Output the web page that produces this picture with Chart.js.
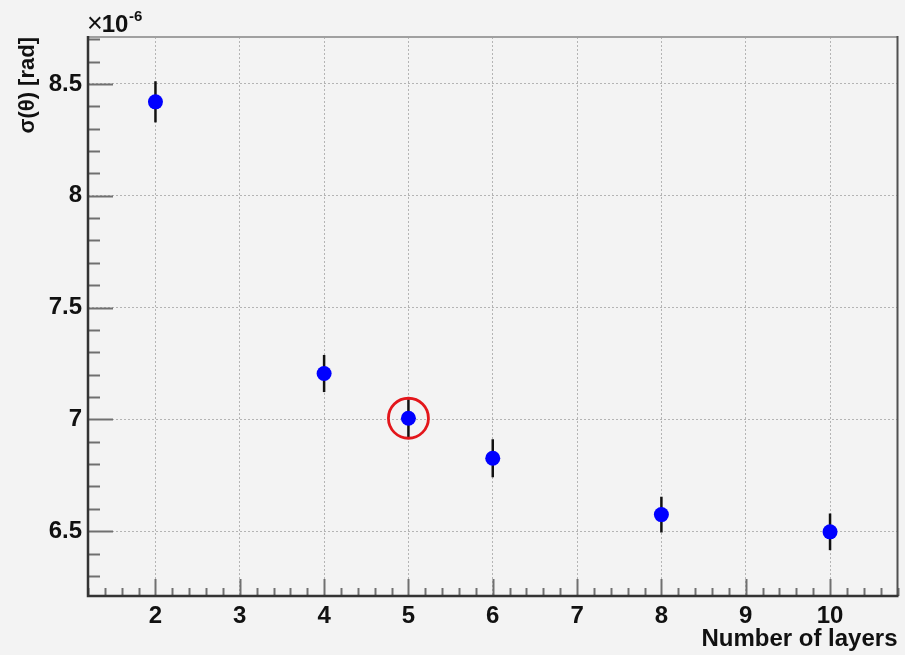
<!DOCTYPE html>
<html>
<head>
<meta charset="utf-8">
<script src="https://cdn.jsdelivr.net/npm/chart.js@4/dist/chart.umd.min.js"></script>
<style>
  html, body { margin: 0; padding: 0; background: #f3f3f3; }
  #wrap { width: 905px; height: 655px; }
</style>
</head>
<body>
<div id="wrap"><canvas id="c" width="905" height="655"></canvas></div>
<script>
// Angular resolution versus number of tracker layers (values in units of 1e-6 rad)
const layers   = [2, 4, 5, 6, 8, 10];
const sigma    = [8.42, 7.205, 7.005, 6.826, 6.574, 6.497];
const sigmaErr = [0.092, 0.083, 0.085, 0.085, 0.08, 0.082];
const chosenLayers = 5;            // configuration marked with a ring

const xTicks = [2, 3, 4, 5, 6, 7, 8, 9, 10];
const yTicks = [6.5, 7, 7.5, 8, 8.5];
const xRange = [1.2, 10.8];
const yRange = [6.21, 8.71];

const FONT = "'Liberation Sans', Arial, Helvetica, sans-serif";

const points = layers.map((n, i) => ({ x: n, y: sigma[i], err: sigmaErr[i] }));

// ROOT-style frame, inward ticks, error bars, ring and exponent label
const rootFrame = {
  id: 'rootFrame',
  beforeDraw(chart) {
    const ctx = chart.ctx;
    ctx.save();
    ctx.fillStyle = '#f3f3f3';
    ctx.fillRect(0, 0, chart.width, chart.height);
    ctx.restore();
  },
  beforeDatasetsDraw(chart) {
    const ctx = chart.ctx;
    const xs = chart.scales.x, ys = chart.scales.y;
    ctx.save();
    ctx.strokeStyle = '#111';
    ctx.lineWidth = 2.5;
    points.forEach(p => {
      const px = xs.getPixelForValue(p.x);
      ctx.beginPath();
      ctx.moveTo(px, ys.getPixelForValue(p.y + p.err));
      ctx.lineTo(px, ys.getPixelForValue(p.y - p.err));
      ctx.stroke();
    });
    ctx.restore();
  },
  afterDatasetsDraw(chart) {
    const ctx = chart.ctx;
    const xs = chart.scales.x, ys = chart.scales.y;
    const a = chart.chartArea;
    ctx.save();

    // ring around the chosen configuration
    const idx = layers.indexOf(chosenLayers);
    ctx.strokeStyle = '#e3161b';
    ctx.lineWidth = 2.8;
    ctx.beginPath();
    ctx.arc(xs.getPixelForValue(layers[idx]), ys.getPixelForValue(sigma[idx]), 20, 0, Math.PI * 2);
    ctx.stroke();

    // tick marks pointing into the frame
    ctx.strokeStyle = '#707070';
    ctx.lineWidth = 2;
    for (let k = Math.ceil(yRange[0] * 10); k <= Math.floor(yRange[1] * 10); k++) {
      const v = k / 10;
      const major = yTicks.some(t => Math.abs(t - v) < 1e-6);
      const py = Math.round(ys.getPixelForValue(v)) + 0.5;
      ctx.beginPath();
      ctx.moveTo(a.left, py);
      ctx.lineTo(a.left + (major ? 25 : 12), py);
      ctx.stroke();
    }
    for (let k = Math.ceil(xRange[0] * 5); k <= Math.floor(xRange[1] * 5); k++) {
      const v = k / 5;
      const major = xTicks.some(t => Math.abs(t - v) < 1e-6);
      const px = Math.round(xs.getPixelForValue(v)) + 0.5;
      ctx.beginPath();
      ctx.moveTo(px, a.bottom);
      ctx.lineTo(px, a.bottom - (major ? 17 : 8));
      ctx.stroke();
    }

    // frame
    ctx.lineWidth = 2;
    ctx.strokeStyle = '#a0a0a0';
    ctx.beginPath();
    ctx.moveTo(a.left, a.top);
    ctx.lineTo(a.right, a.top);
    ctx.stroke();
    ctx.strokeStyle = '#505050';
    ctx.beginPath();
    ctx.moveTo(a.right, a.top - 1);
    ctx.lineTo(a.right, a.bottom);
    ctx.stroke();
    ctx.strokeStyle = '#333';
    ctx.lineWidth = 2.5;
    ctx.beginPath();
    ctx.moveTo(a.left, a.top - 1);
    ctx.lineTo(a.left, a.bottom);
    ctx.lineTo(a.right + 1, a.bottom);
    ctx.stroke();

    // axis exponent: ×10^-6
    ctx.fillStyle = '#111';
    ctx.textBaseline = 'alphabetic';
    ctx.textAlign = 'left';
    let x = a.left - 1;
    ctx.font = '27px ' + FONT;
    ctx.fillText('\u00d7', x, 32);
    x += ctx.measureText('\u00d7').width - 1;
    ctx.font = 'bold 24px ' + FONT;
    ctx.fillText('10', x, 32);
    x += ctx.measureText('10').width + 0.5;
    ctx.font = 'bold 15px ' + FONT;
    ctx.fillText('-6', x, 21);
    ctx.restore();
  }
};

new Chart(document.getElementById('c'), {
  type: 'scatter',
  data: {
    datasets: [{
      data: points,
      pointRadius: 7.5,
      pointHoverRadius: 7.5,
      pointBackgroundColor: '#0000ff',
      pointBorderWidth: 0,
      showLine: false
    }]
  },
  options: {
    responsive: false,
    animation: false,
    events: [],
    layout: { padding: { left: 0, right: 5, top: 37, bottom: 0 } },
    plugins: { legend: { display: false }, tooltip: { enabled: false } },
    scales: {
      x: {
        type: 'linear',
        min: xRange[0],
        max: xRange[1],
        afterBuildTicks: axis => { axis.ticks = xTicks.map(v => ({ value: v })); },
        afterFit: axis => { axis.height = 59; },
        ticks: {
          autoSkip: false,
          maxRotation: 0,
          padding: 6,
          color: '#111',
          font: { family: FONT, size: 24, weight: 'bold' },
          callback: v => String(v)
        },
        grid: { color: '#b4b4b4', lineWidth: 1, drawTicks: false },
        border: { display: false, dash: [2, 2] },
        title: {
          display: true,
          text: 'Number of layers',
          align: 'end',
          color: '#111',
          font: { family: FONT, size: 24, weight: 'bold' },
          padding: { top: 0, bottom: 1 }
        }
      },
      y: {
        type: 'linear',
        min: yRange[0],
        max: yRange[1],
        afterBuildTicks: axis => { axis.ticks = yTicks.map(v => ({ value: v })); },
        afterFit: axis => { axis.width = 88; },
        ticks: {
          autoSkip: false,
          padding: 6,
          color: '#111',
          font: { family: FONT, size: 24, weight: 'bold' },
          callback: v => String(v)
        },
        grid: { color: '#b4b4b4', lineWidth: 1, drawTicks: false },
        border: { display: false, dash: [2, 2] },
        title: {
          display: true,
          text: '\u03c3(\u03b8) [rad]',
          align: 'end',
          color: '#111',
          font: { family: FONT, size: 22, weight: 'bold' },
          padding: { top: 15, bottom: 0 }
        }
      }
    }
  },
  plugins: [rootFrame]
});
</script>
</body>
</html>
